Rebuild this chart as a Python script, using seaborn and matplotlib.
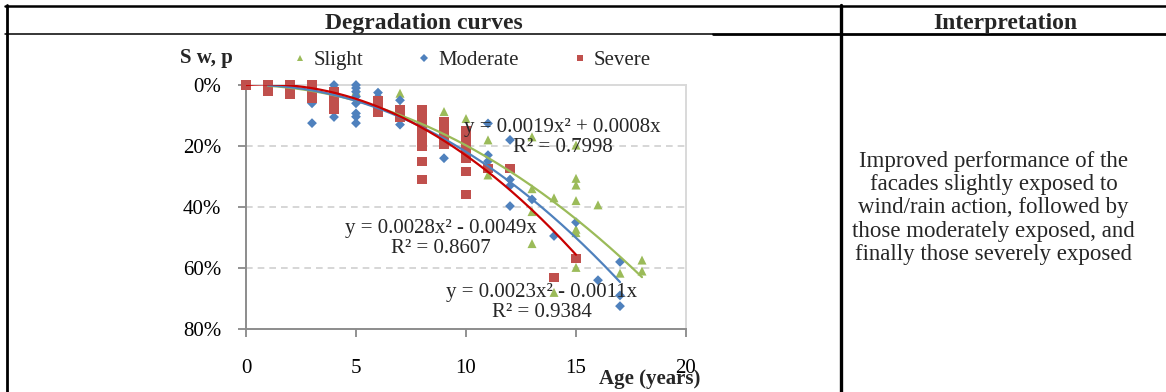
import numpy as np
import pandas as pd
import matplotlib
matplotlib.use("Agg")
import matplotlib.pyplot as plt
import seaborn as sns
from matplotlib.lines import Line2D
from matplotlib.ticker import FuncFormatter

# ---------------- data (Sw in %) ----------------
slight_age = [1, 2, 2, 3, 4, 5, 6, 7, 7, 9, 10, 11, 11, 13, 13, 13, 13, 14, 14,
              15, 15, 15, 15, 15, 15, 15, 16, 17, 18, 18]
slight_sw = [0, 0, 1, 1, 2, 2, 5, 2.7, 7.6, 8.7, 11, 18, 29.5, 17, 34, 41.5, 52, 37, 68,
             19.7, 30.6, 32.8, 37.9, 47.3, 48.4, 59.8, 39.3, 61.7, 57.4, 61]

moderate_age = [1, 1, 2, 2, 2, 2, 3, 3, 3, 3, 4, 4, 4, 4, 5, 5, 5, 5, 5, 5, 5, 5,
                6, 6, 6, 7, 7, 7, 9, 11, 11, 11, 12, 12, 12, 12, 13, 14, 15, 16, 17, 17, 17]
moderate_sw = [0, 1, 0, 1, 2, 3, 2, 4.5, 6, 12.5, 0, 1, 2, 10.5, 0, 1, 2.2, 3.8, 6, 9.3, 10.4, 12.5,
               2.5, 4, 5.5, 5, 9, 13, 24, 12.6, 23, 25, 18, 31, 33, 39.7, 37.5, 49.5, 45, 64, 58, 69, 72.5]

severe_age = [0, 1, 1, 1, 2, 2, 2, 2, 3, 3, 3, 3, 4, 4, 4, 4, 4, 6, 6, 6, 6, 7, 7, 7,
              8, 8, 8, 8, 8, 8, 8, 8, 8, 8, 8, 9, 9, 9, 9, 9, 9,
              10, 10, 10, 10, 10, 10, 10, 10, 10, 11, 12, 14, 15]
severe_sw = [0, 0, 1, 2, 0, 1, 2, 3, 0, 1.5, 3, 4.5, 2, 3.5, 5, 6.5, 8, 5, 6.5, 8, 9, 8, 9.5, 10.5,
             8, 9.5, 11, 12.5, 14, 15.5, 17, 18.5, 20, 25, 31, 12, 13.5, 15, 16.5, 18, 19.5,
             15, 16.5, 18, 19.5, 21, 22.5, 24, 28.5, 36, 27.3, 27.3, 63, 57]

series_names = ["Slight", "Moderate", "Severe"]
# trendline coefficients y = a x^2 + b x  (fraction)
trend_a = [0.0019, 0.0023, 0.0028]
trend_b = [0.0008, -0.0011, -0.0049]
trend_r2 = ["0.7998", "0.9384", "0.8607"]

x_ticks = [0, 5, 10, 15, 20]
y_ticks = [0, 20, 40, 60, 80]

header_left = "Degradation curves"
header_right = "Interpretation"
interp_text = ("Improved performance of the\nfacades slightly exposed to\n"
               "wind/rain action, followed by\nthose moderately exposed, and\n"
               "finally those severely exposed")

# ---------------- styling ----------------
W, H = 1166, 392
colors = {"Slight": "#9BBB59", "Moderate": "#4F81BD", "Severe": "#C0504D"}
line_colors = {"Slight": "#9BBB59", "Moderate": "#4F81BD", "Severe": "#C80000"}
markers = {"Slight": "^", "Moderate": "D", "Severe": "s"}
msize = {"Slight": 42, "Moderate": 25, "Severe": 42}

sns.set_theme(style="white")
plt.rcParams["font.family"] = ["Liberation Serif", "DejaVu Serif"]

fig = plt.figure(figsize=(W / 100, H / 100), dpi=100)
fig.patch.set_facecolor("white")

def fx(px):
    return px / W

def fy(py):
    return 1 - py / H

ax = fig.add_axes([fx(246), fy(329), fx(686) - fx(246), fy(85) - fy(329)])

df = pd.concat([
    pd.DataFrame({"Age": slight_age, "Sw": slight_sw, "Exposure": "Slight"}),
    pd.DataFrame({"Age": moderate_age, "Sw": moderate_sw, "Exposure": "Moderate"}),
    pd.DataFrame({"Age": severe_age, "Sw": severe_sw, "Exposure": "Severe"}),
], ignore_index=True)

for name in series_names:
    sub = df[df["Exposure"] == name]
    sns.scatterplot(data=sub, x="Age", y="Sw", marker=markers[name], color=colors[name],
                    s=msize[name], edgecolor="none", linewidth=0, ax=ax, legend=False, zorder=3,
                    clip_on=False)

# trendlines
trend_rows = []
for name, a, b in zip(series_names, trend_a, trend_b):
    sub = df[df["Exposure"] == name]
    xs = np.linspace(sub["Age"].min(), sub["Age"].max(), 200)
    trend_rows.append(pd.DataFrame({"Age": xs, "Sw": (a * xs ** 2 + b * xs) * 100, "Exposure": name}))
trend_df = pd.concat(trend_rows, ignore_index=True)
for name in series_names:
    sns.lineplot(data=trend_df[trend_df["Exposure"] == name], x="Age", y="Sw",
                 color=line_colors[name], lw=1.6, ax=ax, legend=False, zorder=4, estimator=None)

ax.set_xlim(0, 20)
ax.set_ylim(80, 0)
ax.set_xticks(x_ticks)
ax.set_yticks(y_ticks)
ax.yaxis.set_major_formatter(FuncFormatter(lambda v, p: f"{v:.0f}%"))
ax.set_xlabel("")
ax.set_ylabel("")
ax.tick_params(axis="both", labelsize=15, colors="#7F7F7F", labelcolor="black", length=6, width=1.2,
               direction="out")
ax.tick_params(axis="y", pad=12, left=True)
ax.tick_params(axis="x", pad=15.5, bottom=True)
for yv in y_ticks[1:-1]:
    ax.axhline(yv, color="#D0D0D0", lw=1.2, ls=(0, (4, 3)), zorder=1)
for side in ["left", "bottom"]:
    ax.spines[side].set_color("#8C8C8C")
    ax.spines[side].set_linewidth(1.4)
for side in ["top", "right"]:
    ax.spines[side].set_color("#D9D9D9")
    ax.spines[side].set_linewidth(1.4)
    ax.spines[side].set_visible(True)

# equations
eq_fs = 15
def eq_text(name, xc, yc):
    i = series_names.index(name)
    a, b = trend_a[i], trend_b[i]
    sign = "+" if b >= 0 else "-"
    s = f"y = {a:.4f}x² {sign} {abs(b):.4f}x\nR² = {trend_r2[i]}"
    ax.text(xc, yc, s, ha="center", va="center", fontsize=eq_fs, linespacing=1.12, zorder=5)

eq_text("Slight", 14.39, 17.2)
eq_text("Severe", 8.86, 50.3)
eq_text("Moderate", 13.45, 71.3)

# axis titles
fig.text(fx(206), fy(63), "S w, p", ha="center", va="baseline", fontsize=15, fontweight="bold")
fig.text(fx(650), fy(384), "Age (years)", ha="center", va="baseline", fontsize=15, fontweight="bold")

# legend
handles = [Line2D([], [], marker=markers[n], color=colors[n], ls="none",
                  markersize=5 if n != "Moderate" else 4, markeredgewidth=0) for n in series_names]
fig.legend(handles, series_names, loc="center", bbox_to_anchor=(fx(472), fy(60)), ncol=3, frameon=False,
           fontsize=15, handlelength=0.6, handletextpad=0.35, columnspacing=2.65, borderpad=0)

# table structure
def hline(y, x0, x1, lw):
    fig.add_artist(Line2D([fx(x0), fx(x1)], [fy(y), fy(y)], color="black", lw=lw, transform=fig.transFigure))

def vline(x, y0, y1, lw):
    fig.add_artist(Line2D([fx(x), fx(x)], [fy(y0), fy(y1)], color="black", lw=lw, transform=fig.transFigure))

hline(5.5, 5, W, 1.8)
hline(34, 5, 713, 1.1)
hline(34, 713, W, 2.0)
vline(6.5, 4.5, H, 2.0)
vline(840.5, 4.5, H, 2.4)

fig.text(fx(424), fy(29.5), header_left, ha="center", va="baseline", fontsize=17, fontweight="bold")
fig.text(fx(1005), fy(29.5), header_right, ha="center", va="baseline", fontsize=17, fontweight="bold")
fig.text(fx(993.5), fy(208), interp_text, ha="center", va="center", fontsize=16.5, linespacing=1.13,
         multialignment="center")

fig.savefig("out.png", dpi=100, facecolor="white")
